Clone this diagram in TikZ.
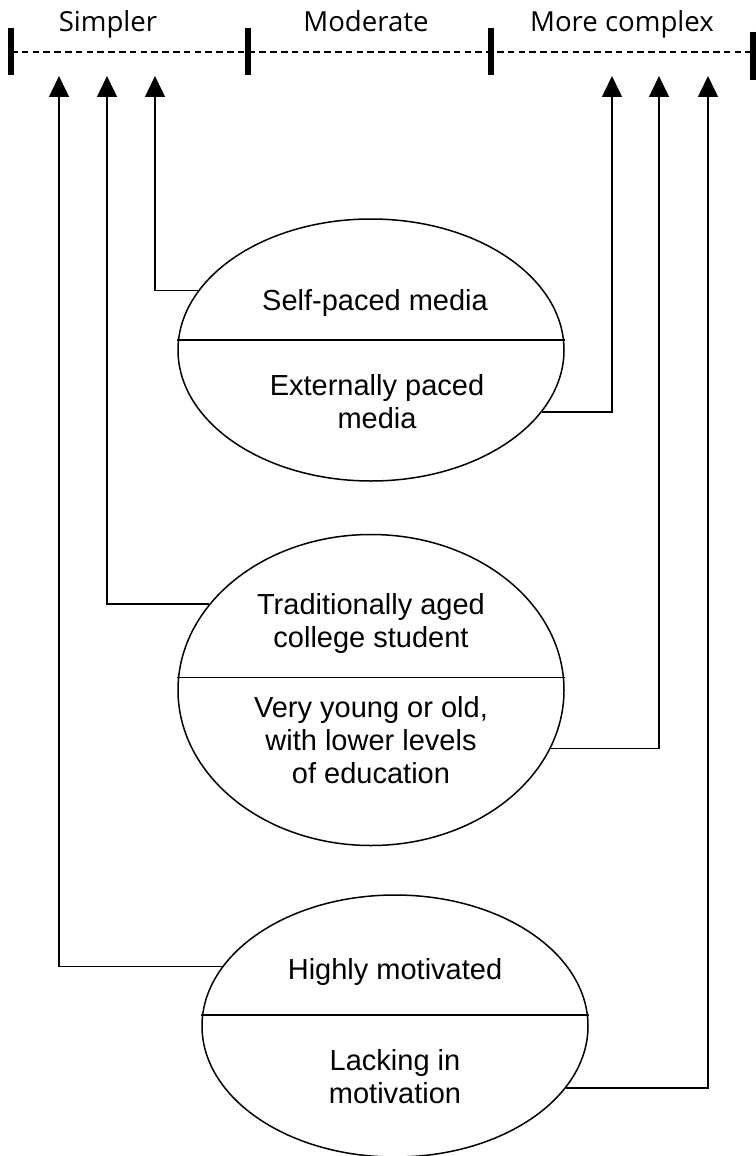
\documentclass[tikz,border=0pt]{standalone}
\usepackage{fontspec}
\setmainfont{Liberation Sans}
\newfontfamily\headfont{Open Sans}
\usetikzlibrary{shapes,arrows.meta,calc,positioning}
\tikzstyle{oval} = [ellipse, draw, line width=0.75pt, inner sep=0pt, minimum width=193pt, minimum height=131pt]
\tikzstyle{txt} = [align=center, inner sep=0pt, font=\fontsize{14.5}{16.5}\selectfont]
\tikzstyle{heading} = [anchor=base, inner sep=0pt, font=\headfont\fontsize{13.8}{16}\selectfont]
\tikzstyle{ruler} = [draw, line width=0.75pt, dash pattern=on 3.3pt off 2.1pt]
\tikzstyle{notch} = [draw, line width=3pt]
\tikzstyle{line} = [draw, line width=0.75pt, -{Triangle[width=10pt,length=10.5pt]}]
\begin{document}
\begin{tikzpicture}[x=0.5pt, y=-0.5pt]
\useasboundingbox (0,0) rectangle (755,1156);

% scale at the top
\path [ruler] (11,52) -- (753,52);
\path [notch] (11,28) -- (11,75);
\path [notch] (248,28) -- (248,75);
\path [notch] (491,28) -- (491,75);
\path [notch] (753,32) -- (753,80);
\node [heading] (simpler) at (108,32) {Simpler};
\node [heading] (moderate) at (366,32) {Moderate};
\node [heading] (complex) at (622,32) {More complex};

\coordinate (s1) at (59,76);
\coordinate (s2) at (107,76);
\coordinate (s3) at (155,76);
\coordinate (c1) at (612,76);
\coordinate (c2) at (659,76);
\coordinate (c3) at (708,76);

% the three ellipses
\node [oval] (media) at (371,350) {};
\node [oval, minimum height=155.5pt, below = 26pt of media] (age) {};
\node [oval, below = 24pt of age, xshift=12pt] (motive) {};

\draw [line width=0.75pt] ($(media.west)+(0,-10)$) -- ($(media.east)+(0,-10)$);
\draw [line width=0.75pt] ($(age.west)+(0,-12.5)$) -- ($(age.east)+(0,-12.5)$);
\draw [line width=0.75pt] ($(motive.west)+(0,-11)$) -- ($(motive.east)+(0,-11)$);

\node [txt] (self) at ($(media)+(4,-47.5)$) {Self-paced media};
\node [txt] (extern) at ($(media)+(6,52)$) {Externally paced\\media};
\node [txt] (trad) at ($(age)+(0,-66.5)$) {Traditionally aged\\college student};
\node [txt] (young) at ($(age)+(0,50)$) {Very young or old,\\with lower levels\\of education};
\node [txt] (high) at ($(motive)+(0,-54.5)$) {Highly motivated};
\node [txt] (lack) at ($(motive)+(0,50.5)$) {Lacking in\\motivation};

\path [line] (media.161) -| (s3);
\path [line] (media.340) -| (c1);
\path [line] (age.152) -| (s2);
\path [line] (age.342) -| (c2);
\path [line] (motive.161) -| (s1);
\path [line] (motive.340) -| (c3);
\end{tikzpicture}
\end{document}
